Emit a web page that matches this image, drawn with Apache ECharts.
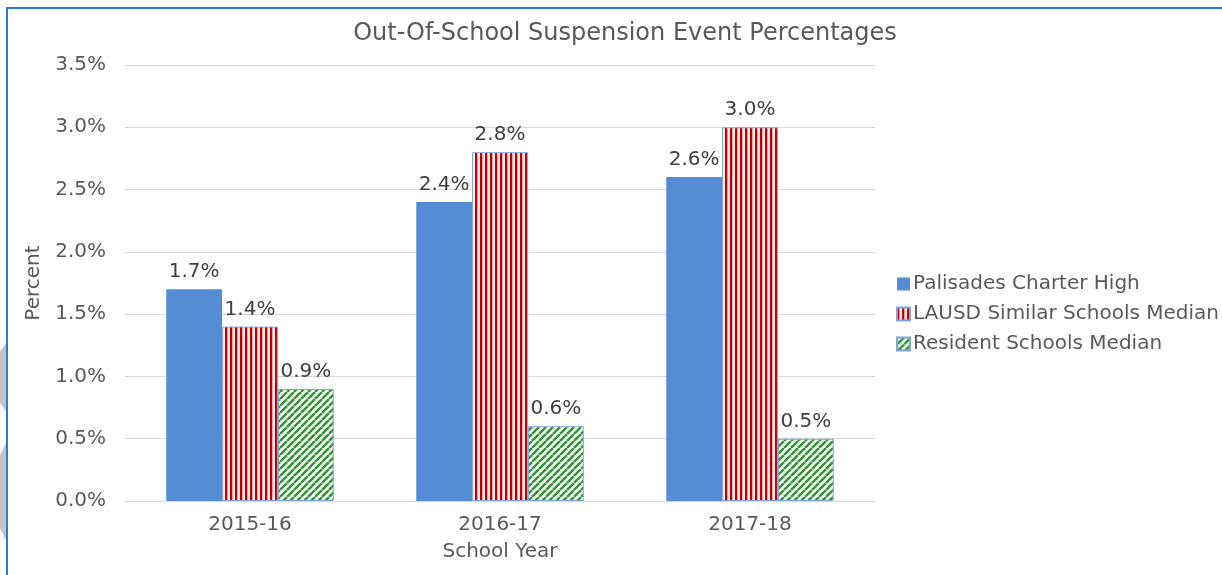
<!DOCTYPE html>
<html>
<head>
<meta charset="utf-8">
<script src="https://cdn.jsdelivr.net/npm/echarts@6/dist/echarts.min.js"></script>
<style>
  body { margin: 0; background: #fff; }
  #chart { width: 1222px; height: 575px; }
  #frame {
    position: absolute; left: 6px; top: 7px; right: 0; bottom: 0;
    border-top: 2px solid #2b7cd3; border-left: 2px solid #2b7cd3;
    pointer-events: none;
  }
  .edge {
    position: absolute; left: 0; width: 6px; background: #c4c4c4;
    clip-path: polygon(0 12%, 100% 0, 100% 100%, 0 88%);
  }
</style>
</head>
<body>
<div id="chart"></div>
<div class="edge" style="top: 343px; height: 68px;"></div>
<div class="edge" style="top: 443px; height: 97px;"></div>
<div id="frame"></div>
<script>
// Chart data
const years = ["2015-16", "2016-17", "2017-18"];
const palisades = [1.7, 2.4, 2.6];
const lausdSimilar = [1.4, 2.8, 3.0];
const residentMedian = [0.9, 0.6, 0.5];
const seriesNames = ["Palisades Charter High", "LAUSD Similar Schools Median", "Resident Schools Median"];

const font = "'DejaVu Sans', Verdana, sans-serif";
const textColor = "#595959";

// Vertical red stripes
function stripePattern() {
  const c = document.createElement("canvas");
  c.width = 5; c.height = 4;
  const ctx = c.getContext("2d");
  ctx.fillStyle = "#fbe9e9";
  ctx.fillRect(0, 0, 5, 4);
  ctx.fillStyle = "#c00000";
  ctx.fillRect(0, 0, 2, 4);
  ctx.fillStyle = "#e9a8a8";
  ctx.fillRect(2, 0, 1, 4);
  return c;
}

// Diagonal green hatching
function hatchPattern() {
  const c = document.createElement("canvas");
  c.width = 7; c.height = 7;
  const ctx = c.getContext("2d");
  ctx.fillStyle = "#ffffff";
  ctx.fillRect(0, 0, 7, 7);
  ctx.strokeStyle = "#2e962e";
  ctx.lineWidth = 2.5;
  ctx.beginPath();
  for (let k = -7; k <= 14; k += 7) {
    ctx.moveTo(k, 7);
    ctx.lineTo(k + 7, 0);
  }
  ctx.stroke();
  return c;
}

const chart = echarts.init(document.getElementById("chart"));

const label = {
  show: true,
  position: "top",
  distance: 7,
  fontFamily: font,
  fontSize: 20,
  color: "#404040",
  formatter: (p) => p.value.toFixed(1) + "%",
};

chart.setOption({
  animation: false,
  textStyle: { fontFamily: font },
  title: {
    text: "Out-Of-School Suspension Event Percentages",
    left: 620,
    textAlign: "center",
    top: 17,
    textStyle: { fontFamily: font, fontSize: 24, fontWeight: "normal", color: textColor },
  },
  legend: {
    orient: "vertical",
    left: 891,
    top: 269,
    icon: "rect",
    itemWidth: 13,
    itemHeight: 13,
    itemGap: 10,
    textStyle: { fontFamily: font, fontSize: 20, lineHeight: 20, color: textColor, padding: [0, 0, 0, -2] },
  },
  grid: { left: 125, right: 347, top: 65, bottom: 74 },
  xAxis: {
    type: "category",
    data: years,
    name: "School Year",
    nameLocation: "middle",
    nameGap: 41,
    nameTextStyle: { fontFamily: font, fontSize: 20, color: textColor },
    axisLine: { lineStyle: { color: "#d9d9d9" } },
    axisTick: { show: false },
    axisLabel: { fontFamily: font, fontSize: 20, color: textColor, margin: 14 },
  },
  yAxis: {
    type: "value",
    min: 0,
    max: 3.5,
    interval: 0.5,
    name: "Percent",
    nameLocation: "middle",
    nameGap: 78,
    nameTextStyle: { fontFamily: font, fontSize: 20, color: textColor },
    axisLabel: {
      fontFamily: font, fontSize: 20, color: textColor, margin: 19,
      formatter: (v) => v.toFixed(1) + "%",
    },
    splitLine: { lineStyle: { color: "#d9d9d9" } },
  },
  series: [
    {
      name: seriesNames[0],
      type: "bar",
      data: palisades,
      barGap: "0%",
      barCategoryGap: "33%",
      itemStyle: { color: "#548dd4" },
      label: label,
    },
    {
      name: seriesNames[1],
      type: "bar",
      data: lausdSimilar,
      itemStyle: {
        color: { image: stripePattern(), repeat: "repeat" },
        borderColor: "#7ea6dc",
        borderWidth: 1,
      },
      label: label,
    },
    {
      name: seriesNames[2],
      type: "bar",
      data: residentMedian,
      itemStyle: {
        color: { image: hatchPattern(), repeat: "repeat" },
        borderColor: "#7ea6dc",
        borderWidth: 1,
      },
      label: label,
    },
  ],
});
</script>
</body>
</html>
